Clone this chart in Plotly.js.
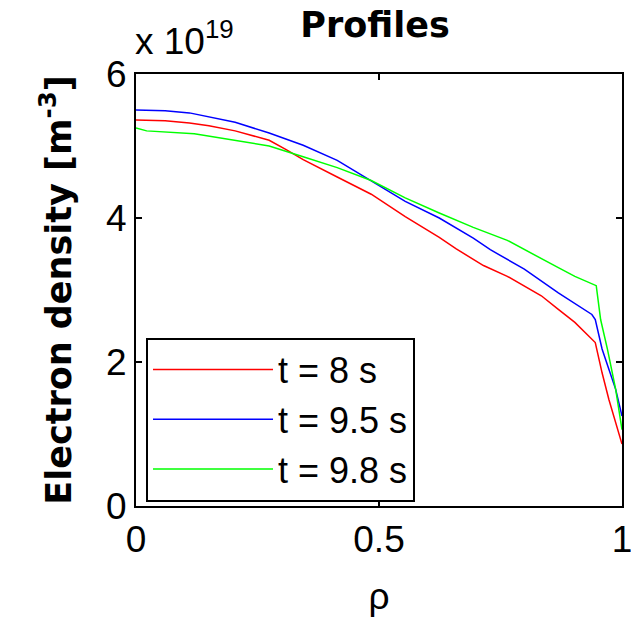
<!DOCTYPE html>
<html>
<head>
<meta charset="utf-8">
<script src="https://cdn.plot.ly/plotly-3.0.1.min.js"></script>
<style>
  html, body { margin: 0; padding: 0; background: #fff; }
  #chart { width: 631px; height: 618px; }
</style>
</head>
<body>
<div id="chart"></div>
<script>
// Electron density profiles (values in units of 1e19 m^-3)
const seriesNames = ["t = 8 s", "t = 9.5 s", "t = 9.8 s"];
const seriesColors = ["#ff0000", "#0000ff", "#00ff00"];

const rhoRed = [0, 0.06, 0.11, 0.15, 0.204, 0.274, 0.309, 0.344, 0.414, 0.484, 0.554, 0.624, 0.659, 0.715, 0.764, 0.799, 0.834, 0.869, 0.903, 0.945, 0.959, 0.973, 0.987, 1.0];
const neRed  = [5.36, 5.35, 5.32, 5.28, 5.21, 5.08, 4.95, 4.81, 4.57, 4.33, 4.02, 3.73, 3.57, 3.34, 3.19, 3.06, 2.92, 2.73, 2.55, 2.27, 1.85, 1.48, 1.16, 0.86];

const rhoBlue = [0, 0.06, 0.11, 0.148, 0.204, 0.274, 0.344, 0.414, 0.484, 0.554, 0.624, 0.694, 0.729, 0.764, 0.799, 0.869, 0.938, 0.945, 0.959, 0.973, 0.987, 1.0];
const neBlue  = [5.50, 5.49, 5.46, 5.41, 5.33, 5.18, 5.01, 4.80, 4.52, 4.23, 4.00, 3.72, 3.56, 3.43, 3.29, 2.96, 2.66, 2.59, 2.18, 1.90, 1.62, 1.25];

const rhoGreen = [0, 0.022, 0.12, 0.204, 0.274, 0.344, 0.414, 0.484, 0.554, 0.624, 0.694, 0.764, 0.799, 0.834, 0.869, 0.903, 0.947, 0.956, 0.970, 0.987, 1.0];
const neGreen  = [5.25, 5.21, 5.17, 5.08, 5.00, 4.85, 4.70, 4.52, 4.28, 4.07, 3.87, 3.69, 3.56, 3.43, 3.31, 3.19, 3.06, 2.59, 2.18, 1.62, 1.06];

const xTicks = [0, 0.5, 1];
const xTickLabels = ["0", "0.5", "1"];
const yTicks = [0, 2, 4, 6];
const yTickLabels = ["0", "2", "4", "6"];

const xs = [rhoRed, rhoBlue, rhoGreen];
const ys = [neRed, neBlue, neGreen];

const traces = seriesNames.map((name, i) => ({
  x: xs[i], y: ys[i], name: name, type: "scatter", mode: "lines",
  line: { color: seriesColors[i], width: 1.5 }
}));

const tickFont = { family: "Liberation Sans, Arial, sans-serif", size: 37, color: "#000" };

const layout = {
  width: 631, height: 618,
  margin: { l: 136, r: 9, t: 74, b: 112, pad: 0 },
  paper_bgcolor: "#fff", plot_bgcolor: "#fff",
  showlegend: true,
  title: {
    text: "Profiles",
    font: { family: "DejaVu Sans, sans-serif", size: 35, weight: "bold", color: "#000" },
    x: 375 / 631, xanchor: "center", xref: "container",
    y: 1 - 25 / 618, yanchor: "middle", yref: "container"
  },
  xaxis: {
    range: [0, 1], tickvals: xTicks, ticktext: xTickLabels,
    showgrid: false, zeroline: false,
    showline: true, linecolor: "#000", linewidth: 2, mirror: "ticks",
    ticks: "inside", ticklen: 6, tickwidth: 1.5, tickcolor: "#000",
    tickfont: tickFont, ticklabeloverflow: "allow",
    title: { text: "ρ", font: tickFont, standoff: 24 },
    automargin: false
  },
  yaxis: {
    range: [0, 6], tickvals: yTicks, ticktext: yTickLabels,
    showgrid: false, zeroline: false,
    showline: true, linecolor: "#000", linewidth: 2, mirror: "ticks",
    ticks: "inside", ticklen: 6, tickwidth: 1.5, tickcolor: "#000",
    tickfont: tickFont,
    title: { text: "Electron density [m<sup>-3</sup>]",
      font: { family: "DejaVu Sans, sans-serif", size: 35, weight: "bold", color: "#000" },
      standoff: 24 },
    automargin: false
  },
  legend: {
    x: 0.0206, y: 0.39, xanchor: "left", yanchor: "top",
    bgcolor: "#fff", bordercolor: "#000", borderwidth: 2,
    font: { family: "Liberation Sans, Arial, sans-serif", size: 36, color: "#000" },
    itemwidth: 120, tracegroupgap: 0
  },
  annotations: [{
    text: "x 10<sup>19</sup>", xref: "paper", yref: "paper",
    x: 0, y: 1.022, xanchor: "left", yanchor: "bottom", showarrow: false,
    xshift: -3,
    font: { family: "Liberation Sans, Arial, sans-serif", size: 37, color: "#000" }
  }]
};

Plotly.newPlot("chart", traces, layout, { displayModeBar: false, staticPlot: true });
</script>
</body>
</html>
